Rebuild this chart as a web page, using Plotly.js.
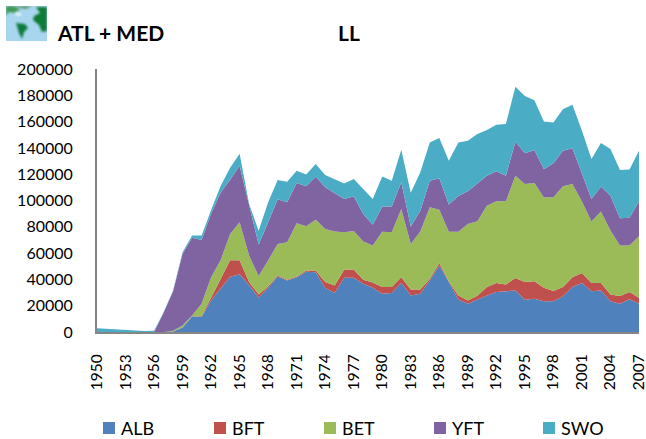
<!DOCTYPE html>
<html><head><meta charset="utf-8">
<script src="https://cdn.plot.ly/plotly-3.0.1.min.js"></script>
<style>html,body{margin:0;padding:0;background:#fff}</style></head>
<body><div id="chart" style="width:646px;height:439px"></div>
<script>
const years = [];
for (let y = 1950; y <= 2007; y++) years.push(String(y));
const tickYears = ["1950","1953","1956","1959","1962","1965","1968","1971","1974","1977","1980","1983","1986","1989","1992","1995","1998","2001","2004","2007"];
const ALB = [0,0,0,0,0,0,0,0,300,3500,12000,11500,24000,33000,42000,44000,35500,26000,33700,42300,39200,41700,45800,45500,33400,29900,41200,41200,36700,33600,29100,29600,37400,27800,29100,39200,50600,38000,24800,21500,24800,27800,30400,30900,31600,24500,25300,23300,23300,27100,34200,37200,30900,31600,23300,21500,25000,21500];
const BFT = [0,0,0,0,0,0,0,0,0,0,0,500,2500,7500,12500,10500,2500,2600,1000,700,500,500,1000,1300,4600,5500,6400,6400,3000,4100,5100,4600,4300,4600,3300,1200,1800,500,3000,2500,2800,6400,6800,5300,9400,13500,13200,10300,7800,7100,7500,7600,6300,5600,5300,5800,5400,4600];
const BET = [0,0,0,0,0,0,0,0,700,1500,600,9500,15200,14000,20100,29000,20000,13900,19700,24000,28600,40500,33700,38500,40400,41000,28300,29300,29100,28100,42000,41700,51900,34600,44000,54500,40500,37700,48400,58200,56600,61900,62200,63200,77900,74600,74800,68600,71400,76600,70900,54400,46800,54400,48600,38500,35400,46800];
const YFT = [0,0,0,0,0,0,0,14700,30000,54500,59000,48500,48300,51500,41100,43000,38000,24000,29100,34000,30400,30600,30300,32700,31600,29400,25300,26300,21000,15700,19200,19500,20300,13200,15900,20200,24000,20700,27300,24800,28400,22800,22800,19500,25800,23300,25100,21500,25800,27100,27100,21000,17200,19000,26500,20700,21000,26500];
const SWO = [2800,2300,1800,1500,1000,800,1000,300,600,1200,1800,3400,2800,5000,9300,9000,1400,10500,15200,14600,15600,9400,8900,9800,9400,10600,11800,13200,19000,19700,22800,19700,24700,25600,29100,29100,30600,33400,40700,38500,37900,34700,35400,39200,41800,43500,37900,36400,31100,31400,33100,32900,30400,33100,35500,36700,36700,38500];
const seriesNames = ["ALB","BFT","BET","YFT","SWO"];
const seriesValues = [ALB,BFT,BET,YFT,SWO];
const seriesColors = ["#4F81BD","#C0504D","#9BBB59","#8064A2","#4BACC6"];
const legendLeftPx = [103,214,324,434,543];
const titleLeft = "ATL + MED", titleRight = "LL";

const W=646,H=439,L=97,R=7,T=69,B=107;
const pw=W-L-R, ph=H-T-B;
const px=x=>(x-L)/pw, py=y=>(H-B-y)/ph;

const traces = seriesNames.map((n,i)=>({
  type:"scatter", mode:"lines", name:n, x:years, y:seriesValues[i],
  stackgroup:"one", fillcolor:seriesColors[i],
  line:{width:0,color:seriesColors[i]}, hoverinfo:"x+y+name", showlegend:false
}));
const icon = "data:image/svg+xml;utf8," + encodeURIComponent(
 '<svg xmlns="http://www.w3.org/2000/svg" width="41" height="35" viewBox="0 0 41 35">'+
 '<defs><filter id="b"><feGaussianBlur stdDeviation="0.8"/></filter></defs>'+
 '<rect width="41" height="35" fill="#a8d6ef"/>'+
 '<g filter="url(#b)">'+
 '<path d="M0 0H8L14 4L8 7L3 6L0 10Z" fill="#3f9a58"/>'+
 '<path d="M8 0H26L20 3L14 2Z" fill="#5f9a6f"/>'+
 '<path d="M10 6L16 8L14 10L9 9Z" fill="#e6f4fa"/>'+
 '<path d="M10 17L19 18L22 22L18 26L16 33L13 27Z" fill="#117a3a"/>'+
 '<path d="M30 1H41V25L36 26L33 19L27 14L28 10L34 7Z" fill="#0c7a35"/>'+
 '</g></svg>');

const legendShapes = seriesNames.map((n,i)=>({
  type:"rect", xref:"paper", yref:"paper",
  x0:px(legendLeftPx[i]), x1:px(legendLeftPx[i]+12),
  y0:py(434), y1:py(422), fillcolor:seriesColors[i], line:{width:0}
}));
const legendLabels = seriesNames.map((n,i)=>({
  text:n, xref:"paper", yref:"paper", x:px(legendLeftPx[i]+16), y:py(428),
  xanchor:"left", yanchor:"middle", showarrow:false, font:{size:18,color:"#000"}
}));

const layout = {
  width:W, height:H, autosize:false,
  margin:{l:L,r:R,t:T,b:B,pad:0},
  paper_bgcolor:"#fff", plot_bgcolor:"#fff",
  font:{family:"Lato, Carlito, sans-serif",size:16,color:"#000"},
  showlegend:false,
  xaxis:{type:"category",categoryorder:"array",categoryarray:years,range:[0,57],
    tickmode:"array",tickvals:tickYears,ticktext:tickYears,tickangle:-90,
    showgrid:false,zeroline:false,showline:true,linecolor:"#868686",linewidth:2,
    ticks:"outside",ticklen:14,tickwidth:1,tickcolor:"rgba(0,0,0,0)",
    tickfont:{size:15.5}},
  yaxis:{range:[0,200000],tickvals:[0,20000,40000,60000,80000,100000,120000,140000,160000,180000,200000],
    tickformat:"d",showgrid:false,zeroline:false,showline:true,linecolor:"#868686",linewidth:2,
    ticks:"outside",ticklen:19,tickwidth:1,tickcolor:"rgba(0,0,0,0)",
    tickfont:{size:16}},
  shapes:legendShapes,
  annotations:[
   {text:"<b>"+titleLeft+"</b>",xref:"paper",yref:"paper",x:px(55),y:py(33),xanchor:"left",yanchor:"middle",showarrow:false,font:{size:21}},
   {text:"<b>"+titleRight+"</b>",xref:"paper",yref:"paper",x:px(336),y:py(33),xanchor:"left",yanchor:"middle",showarrow:false,font:{size:21}}
  ].concat(legendLabels),
  images:[{source:icon,xref:"paper",yref:"paper",x:px(6),y:py(6),sizex:41/pw,sizey:35/ph,xanchor:"left",yanchor:"top",sizing:"stretch",layer:"above"}]
};
Plotly.newPlot("chart",traces,layout,{displayModeBar:false});
</script></body></html>
